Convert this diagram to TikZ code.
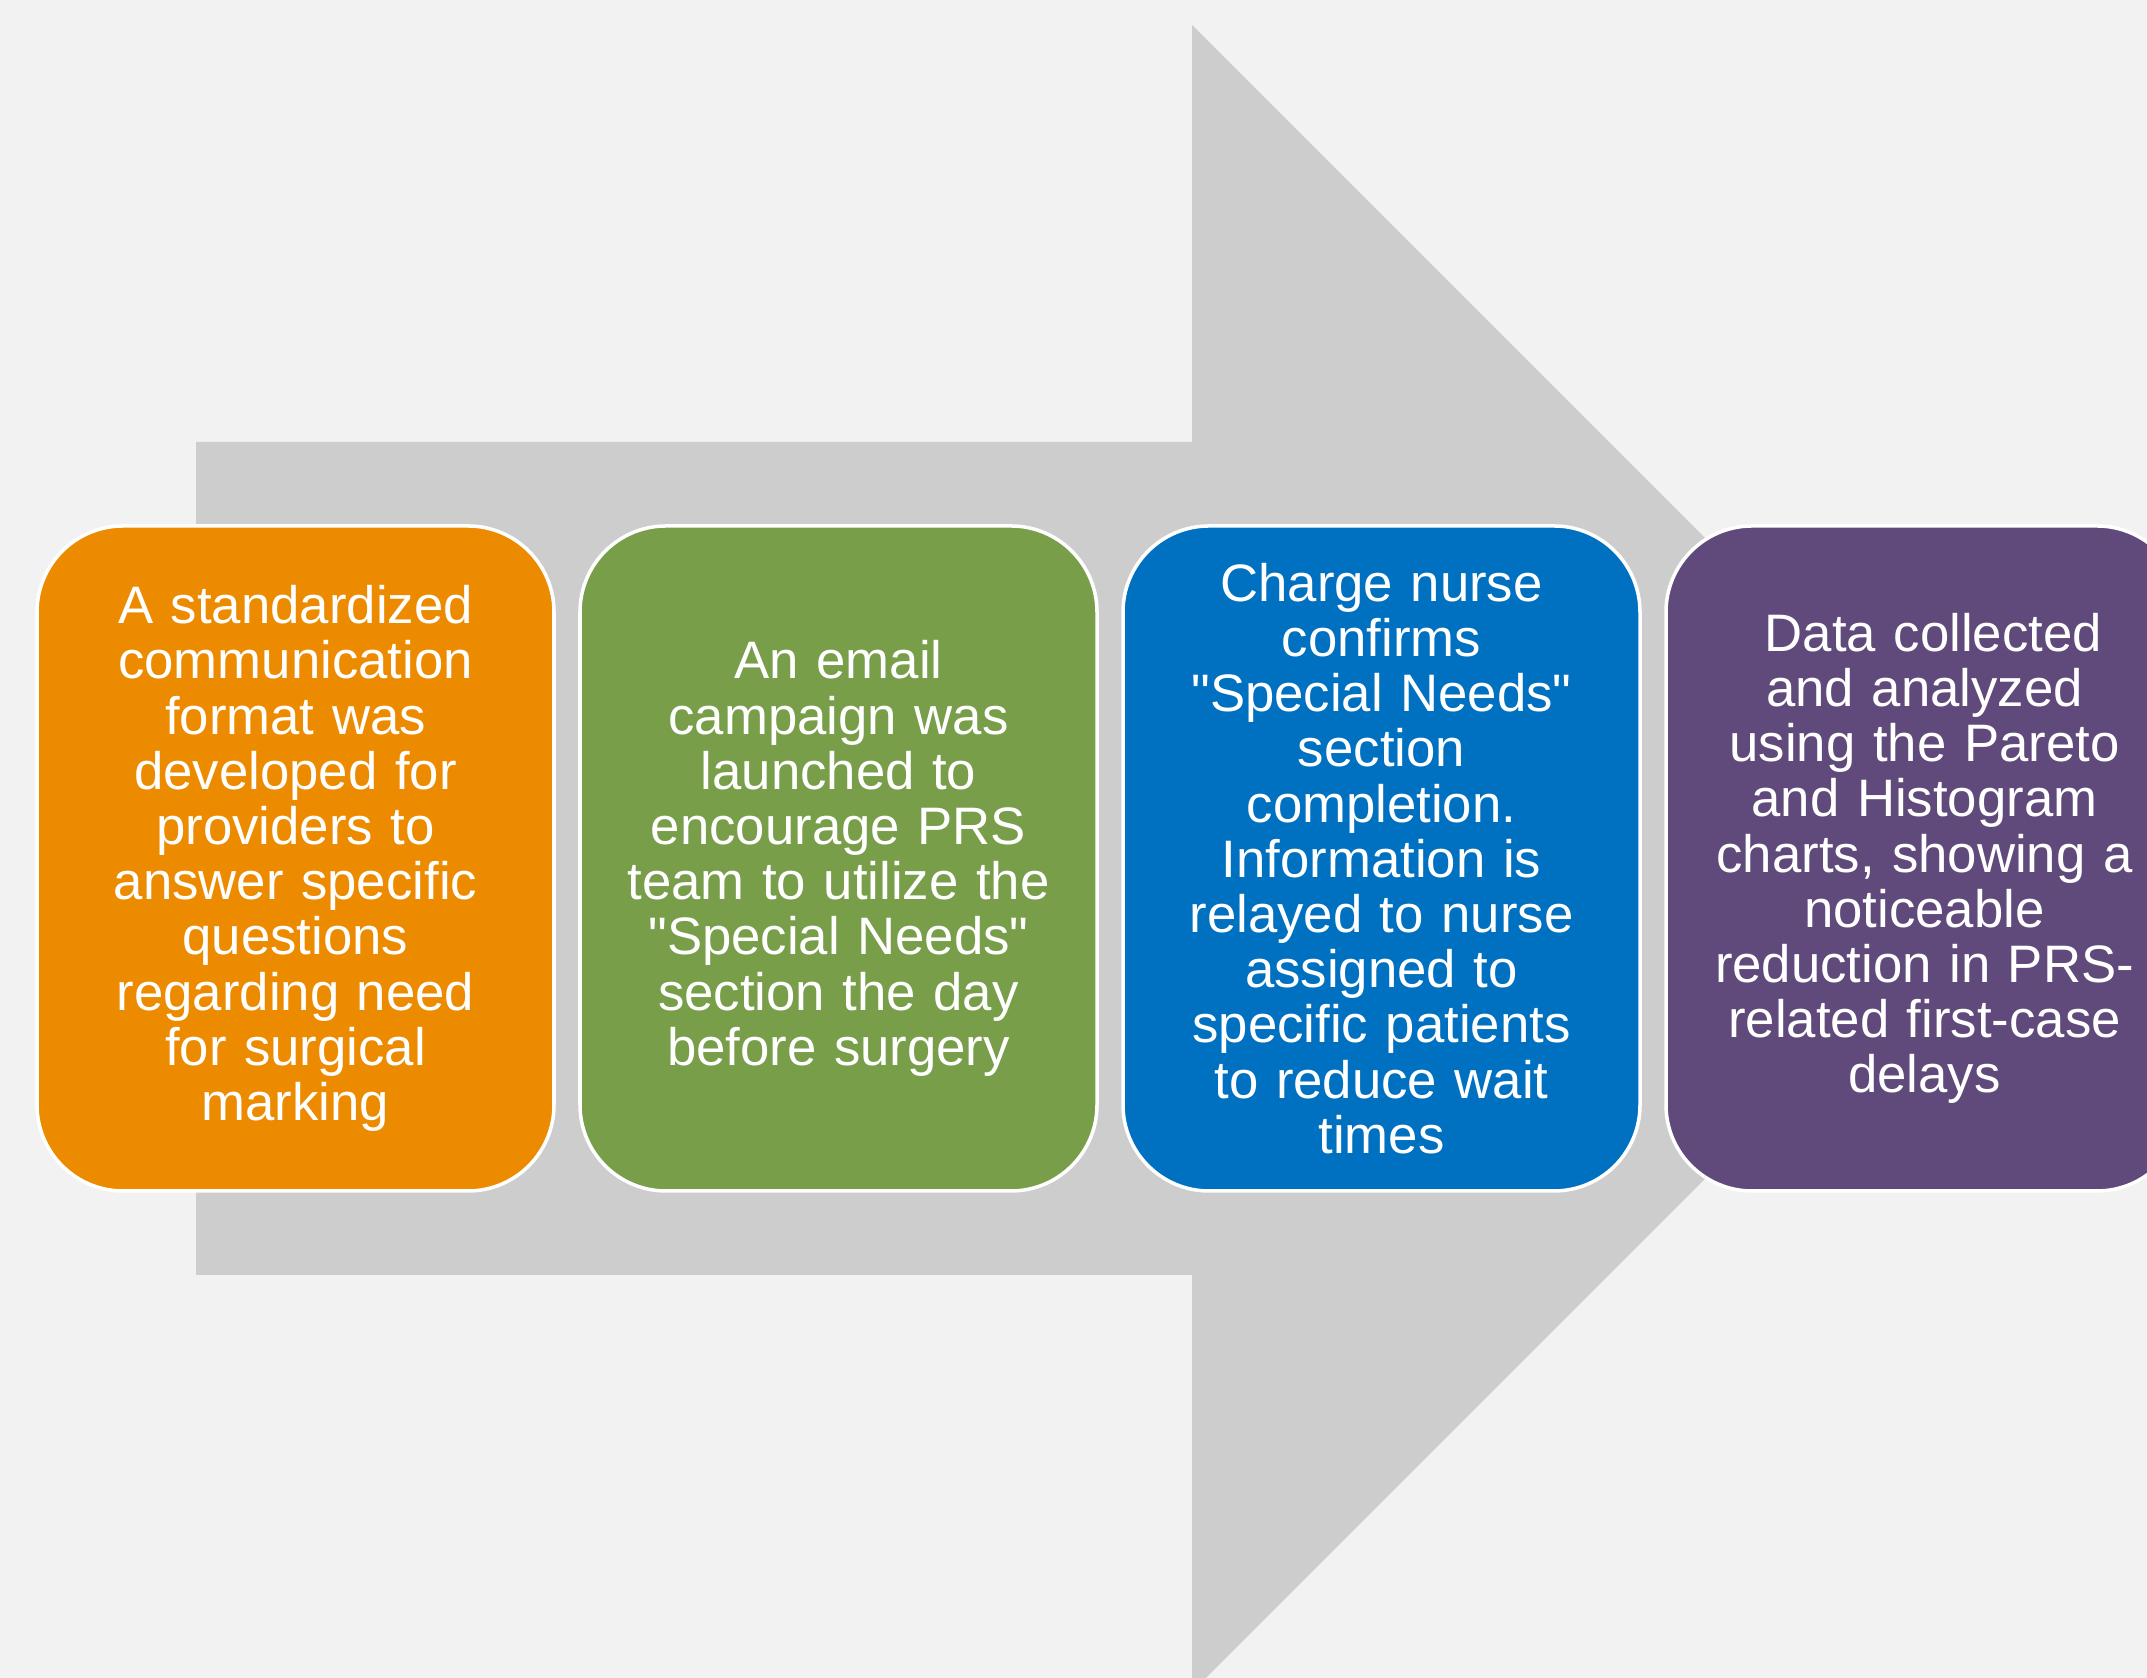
\documentclass[tikz,border=0pt]{standalone}
\usepackage{fontspec}
\setmainfont{Liberation Sans}

\definecolor{mybackground}{RGB}{242,242,242}
\definecolor{myarrowgray}{RGB}{205,205,205}
\definecolor{myorange}{RGB}{237,139,0}
\definecolor{mygreen}{RGB}{120,158,74}
\definecolor{myblue}{RGB}{0,112,192}
\definecolor{mypurple}{RGB}{96,74,123}

\tikzset{
  stepbox/.style={rectangle, rounded corners=0.86cm, draw=white, line width=1pt,
    minimum width=5.17cm, minimum height=6.65cm, inner sep=0pt,
    text=white, text width=4.6cm, align=center,
    font=\fontsize{15}{15.7}\selectfont}
}

\begin{document}
\begin{tikzpicture}
  \useasboundingbox (0,0) rectangle (21.47,16.78);
  \fill[mybackground] (0,0) rectangle (21.47,16.78);
  \clip (0,0) rectangle (21.47,16.78);
  % big arrow behind the steps
  \fill[myarrowgray] (1.96,4.03) -- (1.96,12.36) -- (11.92,12.36) -- (11.92,16.53)
    -- (20.255,8.195) -- (11.92,-0.14) -- (11.92,4.03) -- cycle;
  % the four steps
  \node[stepbox, fill=myorange] (standard) at ( 2.955,8.195)
    {A standardized\\ communication\\ format was\\ developed for\\ providers to\\ answer specific\\ questions\\ regarding need\\ for surgical\\ marking};
  \node[stepbox, fill=mygreen]  (email)    at ( 8.385,8.195)
    {An email\\ campaign was\\ launched to\\ encourage PRS\\ team to utilize the\\ \textquotedbl Special Needs\textquotedbl\\ section the day\\ before surgery};
  \node[stepbox, fill=myblue]   (charge)   at (13.815,8.195)
    {Charge nurse\\ confirms\\ \textquotedbl Special Needs\textquotedbl\\ section\\ completion.\\ Information is\\ relayed to nurse\\ assigned to\\ specific patients\\ to reduce wait\\ times};
  \node[stepbox, fill=mypurple] (data)     at (19.245,8.195)
    {\ Data collected\\ and analyzed\\ using the Pareto\\ and Histogram\\ charts, showing a\\ noticeable\\ reduction in PRS-\\ related first-case\\ delays};
\end{tikzpicture}
\end{document}
